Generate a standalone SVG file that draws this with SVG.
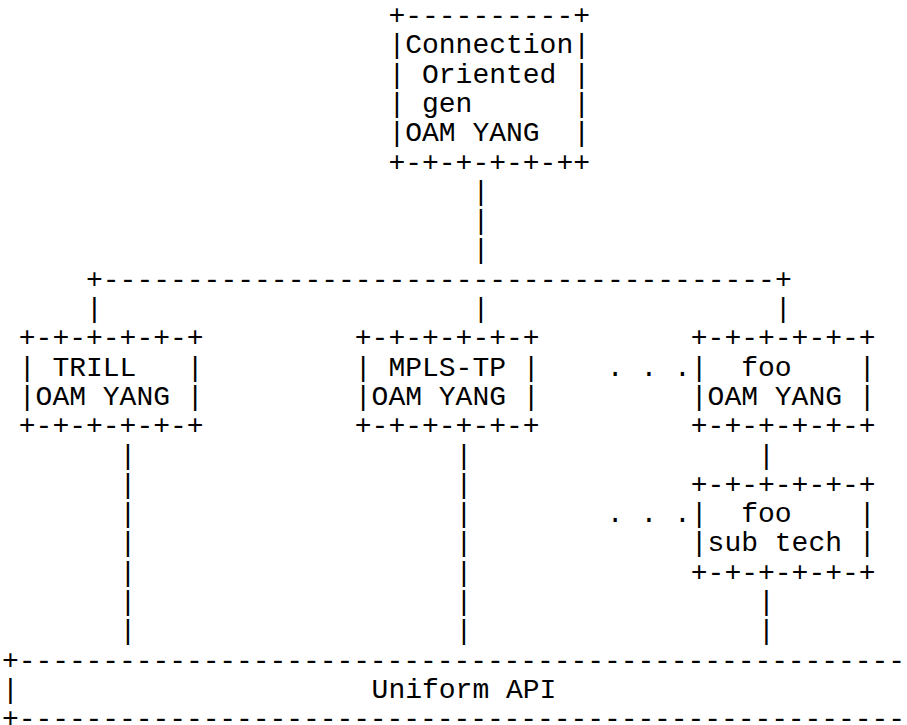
<svg xmlns="http://www.w3.org/2000/svg" width="907" height="725" viewBox="0 0 907 725">
<style>
text{font-family:"Liberation Mono","Courier New",monospace;font-size:28px;fill:#000;white-space:pre}
</style>
<rect width="907" height="725" fill="#fff"/>
<g id="connectors">
<text x="472.4" y="199.8">|</text>
<text x="472.4" y="229.1">|</text>
<text x="472.4" y="258.4">|</text>
<text x="86" y="287.7">+----------------------------------------+</text>
<text x="86" y="317">|</text>
<text x="472.4" y="317">|</text>
<text x="774.8" y="317">|</text>
<text x="606.8" y="375.6">. . .</text>
<text x="606.8" y="522.1">. . .</text>
<text x="119.6" y="463.5">|</text>
<text x="119.6" y="492.8">|</text>
<text x="119.6" y="522.1">|</text>
<text x="119.6" y="551.4">|</text>
<text x="119.6" y="580.7">|</text>
<text x="119.6" y="610">|</text>
<text x="119.6" y="639.3">|</text>
<text x="455.6" y="463.5">|</text>
<text x="455.6" y="492.8">|</text>
<text x="455.6" y="522.1">|</text>
<text x="455.6" y="551.4">|</text>
<text x="455.6" y="580.7">|</text>
<text x="455.6" y="610">|</text>
<text x="455.6" y="639.3">|</text>
<text x="758" y="463.5">|</text>
<text x="758" y="610">|</text>
<text x="758" y="639.3">|</text>
</g>
<g id="node-co-gen">
<text x="388.4" y="24">+----------+</text>
<text x="388.4" y="53.3">|Connection|</text>
<text x="388.4" y="82.6">| Oriented |</text>
<text x="388.4" y="111.9">| gen      |</text>
<text x="388.4" y="141.2">|OAM YANG  |</text>
<text x="388.4" y="170.5">+-+-+-+-+-++</text>
</g>
<g id="node-trill">
<text x="18.8" y="346.3">+-+-+-+-+-+</text>
<text x="18.8" y="375.6">| TRILL   |</text>
<text x="18.8" y="404.9">|OAM YANG |</text>
<text x="18.8" y="434.2">+-+-+-+-+-+</text>
</g>
<g id="node-mpls-tp">
<text x="354.8" y="346.3">+-+-+-+-+-+</text>
<text x="354.8" y="375.6">| MPLS-TP |</text>
<text x="354.8" y="404.9">|OAM YANG |</text>
<text x="354.8" y="434.2">+-+-+-+-+-+</text>
</g>
<g id="node-foo">
<text x="690.8" y="346.3">+-+-+-+-+-+</text>
<text x="690.8" y="375.6">|  foo    |</text>
<text x="690.8" y="404.9">|OAM YANG |</text>
<text x="690.8" y="434.2">+-+-+-+-+-+</text>
</g>
<g id="node-foo-sub">
<text x="690.8" y="492.8">+-+-+-+-+-+</text>
<text x="690.8" y="522.1">|  foo    |</text>
<text x="690.8" y="551.4">|sub tech |</text>
<text x="690.8" y="580.7">+-+-+-+-+-+</text>
</g>
<g id="node-uniform-api">
<text x="2" y="668.6" textLength="903" lengthAdjust="spacing">+-----------------------------------------------------</text>
<text x="2" y="697.9">|</text>
<text x="371.6" y="697.9">Uniform API</text>
<text x="2" y="727.2" textLength="903" lengthAdjust="spacing">+-----------------------------------------------------</text>
</g>
</svg>
